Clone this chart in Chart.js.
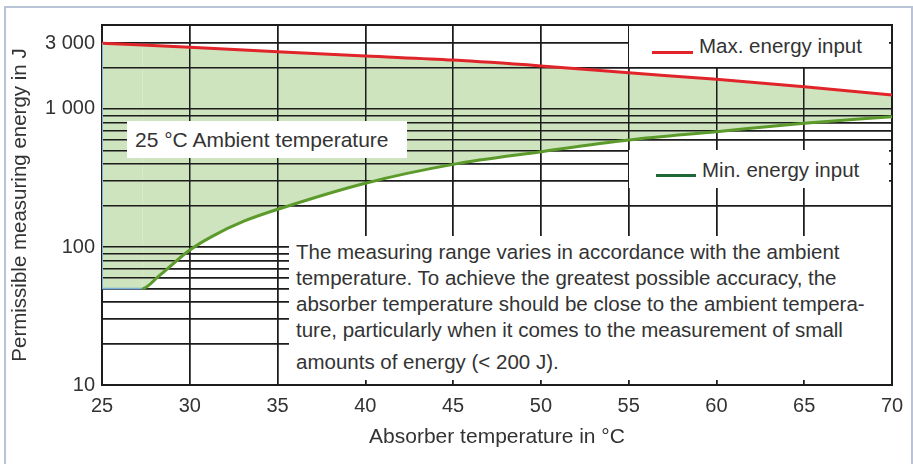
<!DOCTYPE html>
<html>
<head>
<meta charset="utf-8">
<script src="https://cdn.jsdelivr.net/npm/chart.js@4"></script>
<style>
  html, body { margin: 0; padding: 0; background: #fff; overflow: hidden; }
  body { width: 913px; height: 464px; position: relative; font-family: "Liberation Sans", Arial, sans-serif; color: #333; }
  #frame { position: absolute; left: 4px; top: 6px; width: 905px; height: 460px; border: 2px solid #b9c4d6; border-bottom: none; }
  #chart { position: absolute; left: 0; top: 0; }
  .box { position: absolute; background: #fff; font-size: 20.5px; white-space: nowrap; }
  .swatch { position: absolute; height: 3px; }
</style>
</head>
<body>
<div id="frame"></div>
<canvas id="chart" width="913" height="464"></canvas>

<div class="box" style="left:127px;top:121px;width:280px;height:37px;line-height:37px;font-size:21px;">
  <span style="position:absolute;left:8px;">25 °C Ambient temperature</span>
</div>

<div class="box" style="left:629px;top:26px;width:260px;height:41px;">
  <span class="swatch" style="left:23px;top:25px;width:41px;background:#e0242a;"></span>
  <span style="position:absolute;left:70px;top:8px;line-height:24px;">Max. energy input</span>
</div>

<div class="box" style="left:629px;top:150px;width:260px;height:38px;">
  <span class="swatch" style="left:27px;top:24px;width:40px;background:#1f6a36;"></span>
  <span style="position:absolute;left:73px;top:8px;line-height:24px;">Min. energy input</span>
</div>

<div class="box" style="left:289px;top:236px;width:602px;height:144px;line-height:26px;">
  <div style="position:absolute;left:7px;top:3px;">
    The measuring range varies in accordance with the ambient<br>
    temperature. To achieve the greatest possible accuracy, the<br>
    absorber temperature should be close to the ambient tempera-<br>
    ture, particularly when it comes to the measurement of small<br>
    <span style="display:inline-block;margin-top:6px;">amounts of energy (&lt; 200 J).</span>
  </div>
</div>

<script>
// Max. energy input (red)
const maxTemps = [25, 30, 35, 40, 45, 50, 55, 60, 65, 70];
const maxEnergy = [3000, 2800, 2600, 2420, 2260, 2050, 1830, 1640, 1450, 1260];

// Min. energy input (green), flat at 50 J until ~27 °C
const minTemps = [25, 27.3, 28.2, 30, 31.25, 33.15, 35.2, 40, 45, 50, 55, 60, 65, 70];
const minEnergy = [50, 50, 61, 95, 119, 155, 191, 290, 397, 490, 596, 685, 787, 880];

// Axes
const xMin = 25;
const xMax = 70;
const xStep = 5;
const yMin = 10;
const yMax = 4060;
const yGridValues = [10, 20, 30, 40, 50, 60, 70, 80, 90,
  100, 200, 300, 400, 500, 600, 700, 800, 900,
  1000, 2000, 3000];
const yTickValues = [10, 100, 1000, 3000];
const yTickLabels = ['10', '100', '1 000', '3 000'];

const fontFamily = '"Liberation Sans", Arial, sans-serif';
const textColor = '#333';
const gridColor = '#1c1c1c';

const toPoints = (xs, ys) => xs.map((x, i) => ({ x, y: ys[i] }));

// grid again on top of the green band, then a black frame round the plot area
const gridOverFill = {
  id: 'gridOverFill',
  beforeDatasetsDraw(c) {
    c.scales.x.drawGrid(c.chartArea);
    c.scales.y.drawGrid(c.chartArea);
    const { left, top, width, height } = c.chartArea;
    const ctx = c.ctx;
    ctx.save();
    ctx.strokeStyle = gridColor;
    ctx.lineWidth = 2;
    ctx.strokeRect(left, top, width, height);
    ctx.restore();
  },
};

const ctx = document.getElementById('chart');

new Chart(ctx, {
  type: 'line',
  data: {
    datasets: [
      {
        label: 'Min. energy input',
        data: toPoints(minTemps, minEnergy),
        borderColor: '#5b9a2b',
        borderWidth: 3,
        cubicInterpolationMode: 'monotone',
        pointRadius: 0,
        order: 1,
        segment: {
          // the flat start is only the outline of the band
          borderColor: (s) => (s.p0DataIndex === 0 ? '#7ab0dc' : undefined),
          borderWidth: (s) => (s.p0DataIndex === 0 ? 1.5 : undefined),
        },
      },
      {
        label: 'Max. energy input',
        data: toPoints(maxTemps, maxEnergy),
        borderColor: '#e0242a',
        borderWidth: 3,
        backgroundColor: '#cde4be',
        fill: '-1',
        cubicInterpolationMode: 'monotone',
        pointRadius: 0,
        order: 2,
      },
      {
        // left edge of the band
        label: 'edge',
        data: [{ x: minTemps[0], y: minEnergy[0] }, { x: maxTemps[0], y: maxEnergy[0] }],
        borderColor: '#7ab0dc',
        borderWidth: 2,
        pointRadius: 0,
        order: 0,
      },
    ],
  },
  options: {
    responsive: false,
    animation: false,
    layout: {
      padding: { top: 25, right: 21, bottom: 0, left: 0 },
    },
    scales: {
      x: {
        type: 'linear',
        min: xMin,
        max: xMax,
        afterFit: (scale) => { scale.height = 79; },
        border: { display: false },
        grid: { color: gridColor, lineWidth: 1.5, drawTicks: false },
        ticks: {
          stepSize: xStep,
          padding: 9,
          color: textColor,
          font: { family: fontFamily, size: 20 },
        },
        title: {
          display: true,
          text: 'Absorber temperature in °C',
          color: textColor,
          font: { family: fontFamily, size: 21 },
          padding: { top: 14, bottom: 14 },
        },
      },
      y: {
        type: 'logarithmic',
        min: yMin,
        max: yMax,
        afterFit: (scale) => { scale.width = 102; },
        afterBuildTicks: (scale) => {
          scale.ticks = yGridValues.map((v) => ({ value: v }));
        },
        border: { display: false },
        grid: { color: gridColor, lineWidth: 1.5, drawTicks: false },
        ticks: {
          autoSkip: false,
          padding: 7,
          color: textColor,
          font: { family: fontFamily, size: 20 },
          callback: (value) => {
            const i = yTickValues.indexOf(value);
            return i >= 0 ? yTickLabels[i] : '';
          },
        },
        title: {
          display: true,
          text: 'Permissible measuring energy in J',
          color: textColor,
          font: { family: fontFamily, size: 20.5 },
          padding: { top: 8, bottom: 0 },
        },
      },
    },
    plugins: {
      legend: { display: false },
      tooltip: { enabled: false },
      filler: { drawTime: 'beforeDatasetsDraw' },
    },
  },
  plugins: [gridOverFill],
});
</script>
</body>
</html>
